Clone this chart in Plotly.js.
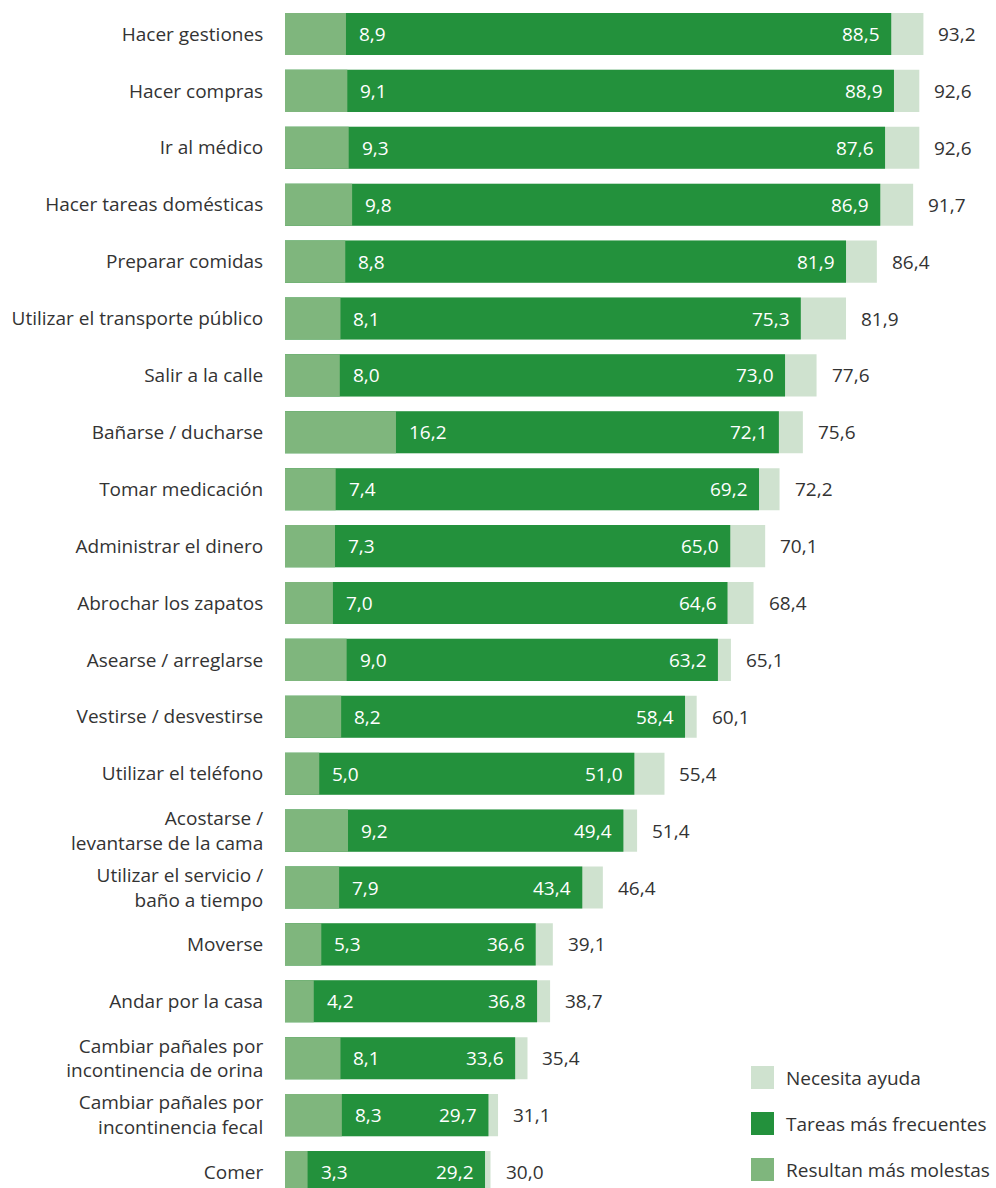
<!DOCTYPE html>
<html>
<head>
<meta charset="utf-8">
<script src="https://cdn.plot.ly/plotly-3.0.1.min.js"></script>
<style>html,body{margin:0;padding:0;background:#fff;}#chart{width:996px;height:1188px;}</style>
</head>
<body>
<div id="chart"></div>
<script>
const categories = [
  "Hacer gestiones",
  "Hacer compras",
  "Ir al médico",
  "Hacer tareas domésticas",
  "Preparar comidas",
  "Utilizar el transporte público",
  "Salir a la calle",
  "Bañarse / ducharse",
  "Tomar medicación",
  "Administrar el dinero",
  "Abrochar los zapatos",
  "Asearse / arreglarse",
  "Vestirse / desvestirse",
  "Utilizar el teléfono",
  "Acostarse /<br>levantarse de la cama",
  "Utilizar el servicio /<br>baño a tiempo",
  "Moverse",
  "Andar por la casa",
  "Cambiar pañales por<br>incontinencia de orina",
  "Cambiar pañales por<br>incontinencia fecal",
  "Comer"
];
const necesitaAyuda = [93.2, 92.6, 92.6, 91.7, 86.4, 81.9, 77.6, 75.6, 72.2, 70.1, 68.4, 65.1, 60.1, 55.4, 51.4, 46.4, 39.1, 38.7, 35.4, 31.1, 30.0];
const tareasFrecuentes = [88.5, 88.9, 87.6, 86.9, 81.9, 75.3, 73.0, 72.1, 69.2, 65.0, 64.6, 63.2, 58.4, 51.0, 49.4, 43.4, 36.6, 36.8, 33.6, 29.7, 29.2];
const masMolestas = [8.9, 9.1, 9.3, 9.8, 8.8, 8.1, 8.0, 16.2, 7.4, 7.3, 7.0, 9.0, 8.2, 5.0, 9.2, 7.9, 5.3, 4.2, 8.1, 8.3, 3.3];
const seriesNames = ["Necesita ayuda", "Tareas más frecuentes", "Resultan más molestas"];
const seriesColors = ["#cfe2cf", "#23913c", "#7fb67d"];

const W = 996, H = 1188, ML = 285, MR = 26;
const FONT = "Open Sans, Noto Sans, sans-serif";
const FS = 19;
const fmt = v => v.toFixed(1).replace('.', ',');

const mk = (vals, i) => ({
  type: 'bar', orientation: 'h', x: vals, y: categories, name: seriesNames[i],
  marker: {color: seriesColors[i], line: {width: 0}}, width: 0.74,
  showlegend: false, hoverinfo: 'x+y'
});
const data = [mk(necesitaAyuda, 0), mk(tareasFrecuentes, 1), mk(masMolestas, 2)];

const annotations = [];
categories.forEach((c, i) => {
  annotations.push({x: masMolestas[i], y: c, xref: 'x', yref: 'y', text: fmt(masMolestas[i]),
    showarrow: false, xanchor: 'left', xshift: 11, font: {family: FONT, size: FS, color: '#ffffff'}});
  annotations.push({x: tareasFrecuentes[i], y: c, xref: 'x', yref: 'y', text: fmt(tareasFrecuentes[i]),
    showarrow: false, xanchor: 'right', xshift: -9, font: {family: FONT, size: FS, color: '#ffffff'}});
  annotations.push({x: necesitaAyuda[i], y: c, xref: 'x', yref: 'y', text: fmt(necesitaAyuda[i]),
    showarrow: false, xanchor: 'left', xshift: 13, font: {family: FONT, size: FS, color: '#333333'}});
});

// legend (drawn in paper space)
const px2x = px => (px - ML) / (W - ML - MR);
const py2y = py => 1 - py / H;
const shapes = [];
const legTops = [1066, 1112, 1158];
seriesNames.forEach((n, i) => {
  shapes.push({type: 'rect', xref: 'paper', yref: 'paper', x0: px2x(751), x1: px2x(774),
    y0: py2y(legTops[i] + 23), y1: py2y(legTops[i]), fillcolor: seriesColors[i], line: {width: 0}});
  annotations.push({xref: 'paper', yref: 'paper', x: px2x(784), y: py2y(legTops[i] + 11.5), text: n,
    showarrow: false, xanchor: 'left', yanchor: 'middle', font: {family: FONT, size: FS, color: '#333333'}});
});

const layout = {
  width: W, height: H,
  margin: {l: ML, r: MR, t: 0, b: 0, pad: 0},
  paper_bgcolor: '#ffffff', plot_bgcolor: '#ffffff',
  barmode: 'overlay',
  showlegend: false,
  xaxis: {visible: false, range: [0, 100], fixedrange: true},
  yaxis: {type: 'category', categoryorder: 'array', categoryarray: categories,
    range: [20.281, -0.5975], autorange: false,
    showgrid: false, zeroline: false, showline: false,
    ticks: 'outside', ticklen: 17, tickcolor: 'rgba(0,0,0,0)',
    tickfont: {family: FONT, size: FS, color: '#333333'}},
  annotations: annotations,
  shapes: shapes,
  font: {family: FONT}
};
Plotly.newPlot('chart', data, layout, {displayModeBar: false, staticPlot: true});
</script>
</body>
</html>
